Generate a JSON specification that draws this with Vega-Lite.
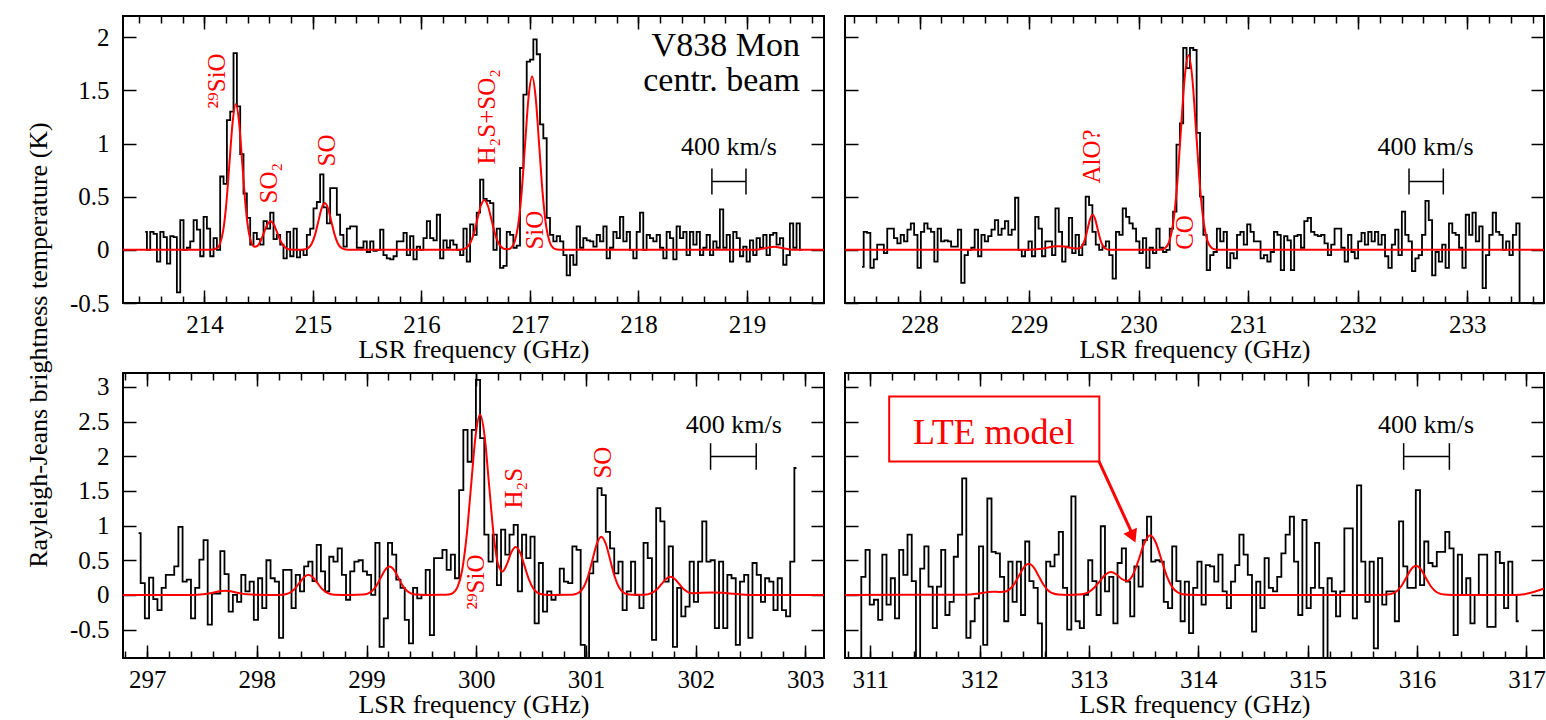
{
"$schema":"https://vega.github.io/schema/vega-lite/v6.json",
"padding":{"left":24,"top":14,"right":2,"bottom":1},
"background":"white",
"columns":2,
"spacing":{"row":70,"column":21},
"bounds":"flush",
"datasets":{
"s1":[{"f":213.455,"t":0.17},{"f":213.486,"t":0.0},{"f":213.516,"t":0.17},{"f":213.547,"t":0.15},{"f":213.578,"t":-0.11},{"f":213.609,"t":0.17},{"f":213.639,"t":0.12},{"f":213.670,"t":-0.13},{"f":213.701,"t":0.13},{"f":213.731,"t":0.12},{"f":213.762,"t":-0.4},{"f":213.793,"t":0.28},{"f":213.823,"t":0.0},{"f":213.854,"t":0.02},{"f":213.885,"t":0.08},{"f":213.916,"t":0.28},{"f":213.946,"t":0.19},{"f":213.977,"t":-0.06},{"f":214.008,"t":0.31},{"f":214.038,"t":0.2},{"f":214.069,"t":-0.06},{"f":214.100,"t":0.11},{"f":214.130,"t":0.0},{"f":214.161,"t":0.69},{"f":214.192,"t":0.62},{"f":214.223,"t":1.22},{"f":214.253,"t":1.3},{"f":214.284,"t":1.85},{"f":214.315,"t":1.35},{"f":214.345,"t":0.9},{"f":214.376,"t":0.53},{"f":214.407,"t":0.3},{"f":214.437,"t":0.05},{"f":214.468,"t":0.16},{"f":214.499,"t":0.1},{"f":214.530,"t":0.05},{"f":214.560,"t":0.27},{"f":214.591,"t":0.2},{"f":214.622,"t":0.35},{"f":214.652,"t":0.1},{"f":214.683,"t":0.14},{"f":214.714,"t":0.05},{"f":214.744,"t":-0.08},{"f":214.775,"t":0.17},{"f":214.806,"t":-0.06},{"f":214.837,"t":0.2},{"f":214.867,"t":-0.07},{"f":214.898,"t":0.0},{"f":214.929,"t":-0.05},{"f":214.959,"t":0.14},{"f":214.990,"t":0.2},{"f":215.021,"t":0.39},{"f":215.051,"t":0.45},{"f":215.082,"t":0.71},{"f":215.113,"t":0.4},{"f":215.144,"t":0.25},{"f":215.174,"t":0.58},{"f":215.205,"t":0.58},{"f":215.236,"t":0.33},{"f":215.266,"t":0.14},{"f":215.297,"t":0.03},{"f":215.328,"t":0.2},{"f":215.358,"t":0.22},{"f":215.389,"t":0.22},{"f":215.420,"t":0.02},{"f":215.451,"t":0.02},{"f":215.481,"t":0.08},{"f":215.512,"t":-0.02},{"f":215.543,"t":0.08},{"f":215.573,"t":-0.01},{"f":215.604,"t":0.0},{"f":215.635,"t":0.19},{"f":215.665,"t":-0.05},{"f":215.696,"t":-0.08},{"f":215.727,"t":-0.09},{"f":215.758,"t":-0.06},{"f":215.788,"t":0.08},{"f":215.819,"t":0.08},{"f":215.850,"t":0.16},{"f":215.880,"t":-0.05},{"f":215.911,"t":0.13},{"f":215.942,"t":-0.09},{"f":215.972,"t":0.03},{"f":216.003,"t":0.0},{"f":216.034,"t":0.11},{"f":216.065,"t":0.27},{"f":216.095,"t":0.11},{"f":216.126,"t":0.09},{"f":216.157,"t":0.33},{"f":216.187,"t":-0.08},{"f":216.218,"t":0.09},{"f":216.249,"t":0.02},{"f":216.279,"t":0.09},{"f":216.310,"t":0.05},{"f":216.341,"t":0.0},{"f":216.372,"t":-0.05},{"f":216.402,"t":0.2},{"f":216.433,"t":-0.11},{"f":216.464,"t":0.24},{"f":216.494,"t":0.14},{"f":216.525,"t":0.35},{"f":216.556,"t":0.66},{"f":216.586,"t":0.48},{"f":216.617,"t":0.46},{"f":216.648,"t":0.44},{"f":216.679,"t":0.0},{"f":216.709,"t":0.2},{"f":216.740,"t":-0.17},{"f":216.771,"t":-0.15},{"f":216.801,"t":0.17},{"f":216.832,"t":0.14},{"f":216.863,"t":0.02},{"f":216.893,"t":0.04},{"f":216.924,"t":0.77},{"f":216.955,"t":1.46},{"f":216.986,"t":1.77},{"f":217.016,"t":1.79},{"f":217.047,"t":1.98},{"f":217.078,"t":1.84},{"f":217.108,"t":1.18},{"f":217.139,"t":1.05},{"f":217.170,"t":0.3},{"f":217.200,"t":0.14},{"f":217.231,"t":0.08},{"f":217.262,"t":0.13},{"f":217.293,"t":0.08},{"f":217.323,"t":-0.05},{"f":217.354,"t":-0.24},{"f":217.385,"t":-0.05},{"f":217.415,"t":-0.14},{"f":217.446,"t":0.22},{"f":217.477,"t":0.02},{"f":217.507,"t":0.11},{"f":217.538,"t":0.09},{"f":217.569,"t":0.08},{"f":217.600,"t":0.03},{"f":217.630,"t":0.14},{"f":217.661,"t":0.08},{"f":217.692,"t":0.22},{"f":217.722,"t":-0.08},{"f":217.753,"t":0.02},{"f":217.784,"t":0.17},{"f":217.814,"t":0.11},{"f":217.845,"t":0.31},{"f":217.876,"t":0.08},{"f":217.907,"t":0.17},{"f":217.937,"t":0.0},{"f":217.968,"t":-0.08},{"f":217.999,"t":0.17},{"f":218.029,"t":0.35},{"f":218.060,"t":0.0},{"f":218.091,"t":0.14},{"f":218.121,"t":0.11},{"f":218.152,"t":0.08},{"f":218.183,"t":0.14},{"f":218.214,"t":0.02},{"f":218.244,"t":-0.08},{"f":218.275,"t":0.17},{"f":218.306,"t":0.11},{"f":218.336,"t":-0.09},{"f":218.367,"t":0.22},{"f":218.398,"t":0.11},{"f":218.428,"t":0.17},{"f":218.459,"t":-0.05},{"f":218.490,"t":0.17},{"f":218.521,"t":0.05},{"f":218.551,"t":0.17},{"f":218.582,"t":-0.05},{"f":218.613,"t":0.02},{"f":218.643,"t":0.14},{"f":218.674,"t":-0.05},{"f":218.705,"t":0.08},{"f":218.735,"t":0.02},{"f":218.766,"t":0.38},{"f":218.797,"t":0.02},{"f":218.828,"t":0.14},{"f":218.858,"t":-0.11},{"f":218.889,"t":0.17},{"f":218.920,"t":0.11},{"f":218.950,"t":-0.06},{"f":218.981,"t":0.03},{"f":219.012,"t":-0.11},{"f":219.042,"t":0.09},{"f":219.073,"t":-0.05},{"f":219.104,"t":0.11},{"f":219.135,"t":0.02},{"f":219.165,"t":0.14},{"f":219.196,"t":-0.05},{"f":219.227,"t":0.14},{"f":219.257,"t":0.16},{"f":219.288,"t":0.05},{"f":219.319,"t":0.11},{"f":219.349,"t":-0.14},{"f":219.380,"t":-0.05},{"f":219.411,"t":0.25},{"f":219.442,"t":0.02},{"f":219.472,"t":0.25},{"f":219.503,"t":0.0}],
"s2":[{"f":227.475,"t":-0.16},{"f":227.506,"t":0.17},{"f":227.536,"t":0.16},{"f":227.567,"t":-0.17},{"f":227.598,"t":-0.09},{"f":227.629,"t":0.05},{"f":227.659,"t":0.05},{"f":227.690,"t":-0.03},{"f":227.721,"t":0.2},{"f":227.751,"t":0.2},{"f":227.782,"t":0.11},{"f":227.813,"t":0.06},{"f":227.843,"t":0.14},{"f":227.874,"t":0.08},{"f":227.905,"t":0.19},{"f":227.936,"t":0.25},{"f":227.966,"t":0.14},{"f":227.997,"t":-0.17},{"f":228.028,"t":0.17},{"f":228.058,"t":0.25},{"f":228.089,"t":0.2},{"f":228.120,"t":0.17},{"f":228.150,"t":-0.11},{"f":228.181,"t":0.2},{"f":228.212,"t":0.08},{"f":228.243,"t":0.09},{"f":228.273,"t":0.08},{"f":228.304,"t":0.03},{"f":228.335,"t":0.03},{"f":228.365,"t":0.19},{"f":228.396,"t":-0.31},{"f":228.427,"t":-0.05},{"f":228.457,"t":0.0},{"f":228.488,"t":0.02},{"f":228.519,"t":0.19},{"f":228.550,"t":-0.06},{"f":228.580,"t":0.14},{"f":228.611,"t":0.08},{"f":228.642,"t":0.13},{"f":228.672,"t":0.19},{"f":228.703,"t":0.28},{"f":228.734,"t":0.14},{"f":228.764,"t":0.2},{"f":228.795,"t":0.27},{"f":228.826,"t":0.14},{"f":228.857,"t":0.19},{"f":228.887,"t":0.49},{"f":228.918,"t":0.0},{"f":228.949,"t":-0.06},{"f":228.979,"t":0.0},{"f":229.010,"t":0.08},{"f":229.041,"t":-0.06},{"f":229.071,"t":0.31},{"f":229.102,"t":0.2},{"f":229.133,"t":-0.06},{"f":229.164,"t":0.08},{"f":229.194,"t":0.08},{"f":229.225,"t":-0.05},{"f":229.256,"t":0.39},{"f":229.286,"t":0.17},{"f":229.317,"t":-0.11},{"f":229.348,"t":0.03},{"f":229.378,"t":0.3},{"f":229.409,"t":-0.03},{"f":229.440,"t":0.14},{"f":229.471,"t":-0.05},{"f":229.501,"t":0.05},{"f":229.532,"t":0.5},{"f":229.563,"t":0.42},{"f":229.593,"t":0.17},{"f":229.624,"t":0.05},{"f":229.655,"t":0.0},{"f":229.685,"t":0.03},{"f":229.716,"t":0.08},{"f":229.747,"t":-0.05},{"f":229.778,"t":-0.27},{"f":229.808,"t":0.17},{"f":229.839,"t":0.14},{"f":229.870,"t":0.39},{"f":229.900,"t":0.31},{"f":229.931,"t":0.25},{"f":229.962,"t":0.2},{"f":229.992,"t":0.08},{"f":230.023,"t":-0.03},{"f":230.054,"t":0.11},{"f":230.085,"t":-0.17},{"f":230.115,"t":0.02},{"f":230.146,"t":-0.03},{"f":230.177,"t":0.2},{"f":230.207,"t":0.02},{"f":230.238,"t":-0.02},{"f":230.269,"t":0.0},{"f":230.299,"t":0.2},{"f":230.330,"t":0.36},{"f":230.361,"t":0.99},{"f":230.392,"t":1.19},{"f":230.422,"t":1.9},{"f":230.453,"t":1.71},{"f":230.484,"t":1.9},{"f":230.514,"t":1.88},{"f":230.545,"t":1.1},{"f":230.576,"t":0.5},{"f":230.606,"t":0.14},{"f":230.637,"t":-0.19},{"f":230.668,"t":-0.05},{"f":230.699,"t":-0.02},{"f":230.729,"t":0.2},{"f":230.760,"t":0.08},{"f":230.791,"t":0.17},{"f":230.821,"t":-0.17},{"f":230.852,"t":-0.03},{"f":230.883,"t":-0.08},{"f":230.913,"t":0.14},{"f":230.944,"t":0.17},{"f":230.975,"t":0.05},{"f":231.006,"t":0.24},{"f":231.036,"t":0.17},{"f":231.067,"t":0.08},{"f":231.098,"t":0.08},{"f":231.128,"t":-0.08},{"f":231.159,"t":-0.05},{"f":231.190,"t":-0.11},{"f":231.220,"t":-0.02},{"f":231.251,"t":0.17},{"f":231.282,"t":0.14},{"f":231.313,"t":-0.19},{"f":231.343,"t":0.13},{"f":231.374,"t":0.09},{"f":231.405,"t":-0.19},{"f":231.435,"t":0.13},{"f":231.466,"t":0.14},{"f":231.497,"t":0.02},{"f":231.527,"t":0.27},{"f":231.558,"t":0.3},{"f":231.589,"t":0.17},{"f":231.620,"t":0.14},{"f":231.650,"t":0.13},{"f":231.681,"t":0.14},{"f":231.712,"t":0.06},{"f":231.742,"t":-0.05},{"f":231.773,"t":0.05},{"f":231.804,"t":0.2},{"f":231.834,"t":0.2},{"f":231.865,"t":0.02},{"f":231.896,"t":-0.11},{"f":231.927,"t":0.14},{"f":231.957,"t":-0.02},{"f":231.988,"t":-0.08},{"f":232.019,"t":0.08},{"f":232.049,"t":0.16},{"f":232.080,"t":0.05},{"f":232.111,"t":0.17},{"f":232.141,"t":0.08},{"f":232.172,"t":0.17},{"f":232.203,"t":0.05},{"f":232.234,"t":0.14},{"f":232.264,"t":-0.06},{"f":232.295,"t":-0.17},{"f":232.326,"t":0.05},{"f":232.356,"t":0.19},{"f":232.387,"t":-0.05},{"f":232.418,"t":0.36},{"f":232.448,"t":0.14},{"f":232.479,"t":0.08},{"f":232.510,"t":-0.2},{"f":232.541,"t":-0.08},{"f":232.571,"t":-0.05},{"f":232.602,"t":0.14},{"f":232.633,"t":0.46},{"f":232.663,"t":0.28},{"f":232.694,"t":-0.24},{"f":232.725,"t":-0.02},{"f":232.755,"t":-0.11},{"f":232.786,"t":0.05},{"f":232.817,"t":-0.17},{"f":232.848,"t":0.25},{"f":232.878,"t":0.16},{"f":232.909,"t":0.14},{"f":232.940,"t":0.02},{"f":232.970,"t":-0.17},{"f":233.001,"t":0.33},{"f":233.032,"t":0.14},{"f":233.062,"t":0.35},{"f":233.093,"t":0.08},{"f":233.124,"t":0.22},{"f":233.155,"t":-0.36},{"f":233.185,"t":-0.05},{"f":233.216,"t":0.14},{"f":233.247,"t":0.35},{"f":233.277,"t":0.17},{"f":233.308,"t":0.14},{"f":233.339,"t":0.0},{"f":233.369,"t":0.08},{"f":233.400,"t":-0.05},{"f":233.431,"t":0.14},{"f":233.462,"t":0.25},{"f":233.492,"t":-0.9}],
"s3":[{"f":296.922,"t":0.89},{"f":296.960,"t":0.17},{"f":296.998,"t":-0.34},{"f":297.037,"t":0.25},{"f":297.075,"t":-0.06},{"f":297.113,"t":-0.22},{"f":297.151,"t":0.1},{"f":297.189,"t":0.29},{"f":297.228,"t":0.29},{"f":297.266,"t":0.41},{"f":297.304,"t":0.98},{"f":297.342,"t":0.19},{"f":297.380,"t":0.22},{"f":297.419,"t":-0.34},{"f":297.457,"t":0.1},{"f":297.495,"t":0.51},{"f":297.533,"t":0.79},{"f":297.571,"t":-0.43},{"f":297.610,"t":0.02},{"f":297.648,"t":0.02},{"f":297.686,"t":0.63},{"f":297.724,"t":0.3},{"f":297.762,"t":-0.24},{"f":297.801,"t":0.0},{"f":297.839,"t":-0.1},{"f":297.877,"t":0.29},{"f":297.915,"t":0.05},{"f":297.953,"t":0.19},{"f":297.992,"t":-0.36},{"f":298.030,"t":0.24},{"f":298.068,"t":-0.19},{"f":298.106,"t":0.5},{"f":298.144,"t":0.24},{"f":298.183,"t":0.19},{"f":298.221,"t":-0.62},{"f":298.259,"t":0.36},{"f":298.297,"t":0.36},{"f":298.335,"t":-0.19},{"f":298.374,"t":0.29},{"f":298.412,"t":0.05},{"f":298.450,"t":0.41},{"f":298.488,"t":0.48},{"f":298.526,"t":0.2},{"f":298.565,"t":0.72},{"f":298.603,"t":0.34},{"f":298.641,"t":0.05},{"f":298.679,"t":0.55},{"f":298.717,"t":0.48},{"f":298.756,"t":0.67},{"f":298.794,"t":0.29},{"f":298.832,"t":-0.07},{"f":298.870,"t":0.34},{"f":298.908,"t":0.48},{"f":298.947,"t":0.5},{"f":298.985,"t":0.34},{"f":299.023,"t":0.29},{"f":299.061,"t":0.0},{"f":299.099,"t":0.75},{"f":299.138,"t":-0.75},{"f":299.176,"t":-0.34},{"f":299.214,"t":0.75},{"f":299.252,"t":0.58},{"f":299.290,"t":0.22},{"f":299.329,"t":0.1},{"f":299.367,"t":-0.36},{"f":299.405,"t":-0.7},{"f":299.443,"t":0.1},{"f":299.481,"t":-0.05},{"f":299.520,"t":0.0},{"f":299.558,"t":0.36},{"f":299.596,"t":-0.58},{"f":299.634,"t":0.53},{"f":299.672,"t":0.53},{"f":299.711,"t":0.65},{"f":299.749,"t":0.36},{"f":299.787,"t":0.58},{"f":299.825,"t":0.24},{"f":299.863,"t":1.51},{"f":299.902,"t":2.38},{"f":299.940,"t":1.92},{"f":299.978,"t":2.38},{"f":300.016,"t":3.1},{"f":300.054,"t":2.26},{"f":300.093,"t":0.87},{"f":300.131,"t":0.48},{"f":300.169,"t":0.87},{"f":300.207,"t":0.14},{"f":300.245,"t":0.94},{"f":300.284,"t":0.58},{"f":300.322,"t":0.87},{"f":300.360,"t":1.01},{"f":300.398,"t":0.05},{"f":300.436,"t":0.87},{"f":300.475,"t":0.53},{"f":300.513,"t":0.84},{"f":300.551,"t":-0.41},{"f":300.589,"t":0.46},{"f":300.627,"t":-0.24},{"f":300.666,"t":0.05},{"f":300.704,"t":-0.07},{"f":300.742,"t":0.0},{"f":300.780,"t":0.38},{"f":300.818,"t":0.19},{"f":300.857,"t":0.17},{"f":300.895,"t":0.7},{"f":300.933,"t":0.65},{"f":300.971,"t":-0.72},{"f":301.009,"t":-1.2},{"f":301.048,"t":0.31},{"f":301.086,"t":0.48},{"f":301.124,"t":1.54},{"f":301.162,"t":1.44},{"f":301.200,"t":0.91},{"f":301.239,"t":0.67},{"f":301.277,"t":0.31},{"f":301.315,"t":0.48},{"f":301.353,"t":-0.22},{"f":301.391,"t":0.05},{"f":301.430,"t":0.48},{"f":301.468,"t":0.0},{"f":301.506,"t":-0.19},{"f":301.544,"t":0.75},{"f":301.582,"t":0.53},{"f":301.621,"t":-0.65},{"f":301.659,"t":1.25},{"f":301.697,"t":1.06},{"f":301.735,"t":0.19},{"f":301.773,"t":0.7},{"f":301.812,"t":-0.75},{"f":301.850,"t":0.1},{"f":301.888,"t":-0.31},{"f":301.926,"t":-0.17},{"f":301.964,"t":0.48},{"f":302.003,"t":-0.1},{"f":302.041,"t":0.48},{"f":302.079,"t":1.06},{"f":302.117,"t":0.48},{"f":302.155,"t":0.5},{"f":302.194,"t":-0.48},{"f":302.232,"t":0.48},{"f":302.270,"t":-0.48},{"f":302.308,"t":0.29},{"f":302.346,"t":0.24},{"f":302.385,"t":-0.72},{"f":302.423,"t":0.19},{"f":302.461,"t":0.29},{"f":302.499,"t":-0.62},{"f":302.537,"t":0.46},{"f":302.576,"t":0.29},{"f":302.614,"t":-0.1},{"f":302.652,"t":0.24},{"f":302.690,"t":0.19},{"f":302.728,"t":-0.22},{"f":302.767,"t":0.24},{"f":302.805,"t":-0.22},{"f":302.843,"t":-0.31},{"f":302.881,"t":0.48},{"f":302.919,"t":1.83}],
"s4":[{"f":310.900,"t":-1.2},{"f":310.938,"t":0.26},{"f":310.977,"t":0.65},{"f":311.015,"t":-0.14},{"f":311.054,"t":-0.07},{"f":311.092,"t":-0.36},{"f":311.130,"t":0.58},{"f":311.169,"t":-0.14},{"f":311.207,"t":0.24},{"f":311.246,"t":-0.34},{"f":311.284,"t":0.65},{"f":311.322,"t":0.29},{"f":311.361,"t":0.87},{"f":311.399,"t":0.2},{"f":311.438,"t":-1.2},{"f":311.476,"t":0.38},{"f":311.514,"t":0.7},{"f":311.553,"t":0.12},{"f":311.591,"t":-0.48},{"f":311.630,"t":0.12},{"f":311.668,"t":0.65},{"f":311.706,"t":-0.29},{"f":311.745,"t":-0.1},{"f":311.783,"t":0.55},{"f":311.822,"t":0.87},{"f":311.860,"t":1.68},{"f":311.898,"t":-0.62},{"f":311.937,"t":-0.38},{"f":311.975,"t":-0.05},{"f":312.014,"t":0.7},{"f":312.052,"t":-0.72},{"f":312.090,"t":1.39},{"f":312.129,"t":0.62},{"f":312.167,"t":0.6},{"f":312.206,"t":0.26},{"f":312.244,"t":-0.38},{"f":312.282,"t":0.48},{"f":312.321,"t":-0.1},{"f":312.359,"t":0.48},{"f":312.398,"t":-0.29},{"f":312.436,"t":0.77},{"f":312.474,"t":0.2},{"f":312.513,"t":0.1},{"f":312.551,"t":-0.41},{"f":312.590,"t":-1.2},{"f":312.628,"t":0.48},{"f":312.666,"t":0.41},{"f":312.705,"t":0.58},{"f":312.743,"t":0.91},{"f":312.782,"t":0.1},{"f":312.820,"t":-0.5},{"f":312.858,"t":1.42},{"f":312.897,"t":-0.38},{"f":312.935,"t":-0.48},{"f":312.974,"t":0.0},{"f":313.012,"t":0.5},{"f":313.050,"t":0.2},{"f":313.089,"t":-0.29},{"f":313.127,"t":0.99},{"f":313.166,"t":0.05},{"f":313.204,"t":0.26},{"f":313.242,"t":-0.41},{"f":313.281,"t":0.46},{"f":313.319,"t":0.67},{"f":313.358,"t":0.19},{"f":313.396,"t":-0.31},{"f":313.434,"t":0.41},{"f":313.473,"t":0.12},{"f":313.511,"t":0.79},{"f":313.550,"t":1.13},{"f":313.588,"t":0.48},{"f":313.626,"t":0.5},{"f":313.665,"t":0.48},{"f":313.703,"t":-0.1},{"f":313.742,"t":-0.19},{"f":313.780,"t":0.7},{"f":313.818,"t":0.2},{"f":313.857,"t":-0.38},{"f":313.895,"t":0.19},{"f":313.934,"t":-0.55},{"f":313.972,"t":0.1},{"f":314.010,"t":0.48},{"f":314.049,"t":-0.14},{"f":314.087,"t":0.43},{"f":314.126,"t":0.41},{"f":314.164,"t":0.19},{"f":314.202,"t":0.58},{"f":314.241,"t":0.05},{"f":314.279,"t":-0.19},{"f":314.318,"t":0.19},{"f":314.356,"t":0.43},{"f":314.394,"t":0.87},{"f":314.433,"t":0.58},{"f":314.471,"t":0.29},{"f":314.510,"t":-0.53},{"f":314.548,"t":0.19},{"f":314.586,"t":-0.19},{"f":314.625,"t":0.53},{"f":314.663,"t":0.1},{"f":314.702,"t":0.05},{"f":314.740,"t":0.26},{"f":314.778,"t":0.6},{"f":314.817,"t":0.87},{"f":314.855,"t":1.13},{"f":314.894,"t":0.48},{"f":314.932,"t":-0.29},{"f":314.970,"t":1.08},{"f":315.009,"t":-0.19},{"f":315.047,"t":0.1},{"f":315.086,"t":0.75},{"f":315.124,"t":0.1},{"f":315.162,"t":-1.2},{"f":315.201,"t":0.24},{"f":315.239,"t":0.05},{"f":315.278,"t":-0.31},{"f":315.316,"t":0.05},{"f":315.354,"t":0.96},{"f":315.393,"t":0.96},{"f":315.431,"t":-0.34},{"f":315.470,"t":1.58},{"f":315.508,"t":0.48},{"f":315.546,"t":-0.1},{"f":315.585,"t":0.48},{"f":315.623,"t":-0.77},{"f":315.662,"t":0.53},{"f":315.700,"t":-0.14},{"f":315.738,"t":0.05},{"f":315.777,"t":0.05},{"f":315.815,"t":-0.38},{"f":315.854,"t":1.06},{"f":315.892,"t":0.41},{"f":315.930,"t":0.1},{"f":315.969,"t":0.1},{"f":316.007,"t":1.51},{"f":316.046,"t":0.14},{"f":316.084,"t":0.77},{"f":316.122,"t":0.46},{"f":316.161,"t":0.41},{"f":316.199,"t":0.62},{"f":316.238,"t":0.62},{"f":316.276,"t":0.91},{"f":316.314,"t":0.67},{"f":316.353,"t":-0.58},{"f":316.391,"t":0.58},{"f":316.430,"t":0.0},{"f":316.468,"t":0.24},{"f":316.506,"t":-0.41},{"f":316.545,"t":0.0},{"f":316.583,"t":0.58},{"f":316.622,"t":0.58},{"f":316.660,"t":-0.46},{"f":316.698,"t":-0.46},{"f":316.737,"t":0.62},{"f":316.775,"t":0.46},{"f":316.814,"t":-0.19},{"f":316.852,"t":0.48},{"f":316.890,"t":0.0},{"f":316.929,"t":-0.38}],
"m1":[{"f":213.25,"t":0},{"f":214.05,"t":0},{"f":214.116,"t":0.015},{"f":214.145,"t":0.06},{"f":214.174,"t":0.185},{"f":214.203,"t":0.445},{"f":214.232,"t":0.831},{"f":214.261,"t":1.209},{"f":214.29,"t":1.37},{"f":214.319,"t":1.209},{"f":214.348,"t":0.831},{"f":214.377,"t":0.445},{"f":214.406,"t":0.185},{"f":214.435,"t":0.063},{"f":214.464,"t":0.029},{"f":214.49,"t":0.038},{"f":214.52,"t":0.088},{"f":214.55,"t":0.164},{"f":214.58,"t":0.238},{"f":214.61,"t":0.27},{"f":214.64,"t":0.238},{"f":214.67,"t":0.164},{"f":214.70,"t":0.088},{"f":214.73,"t":0.037},{"f":214.76,"t":0.012},{"f":214.79,"t":0.003},{"f":214.86,"t":0},{"f":214.93,"t":0.005},{"f":214.96,"t":0.019},{"f":214.99,"t":0.06},{"f":215.02,"t":0.143},{"f":215.05,"t":0.267},{"f":215.08,"t":0.388},{"f":215.11,"t":0.44},{"f":215.14,"t":0.388},{"f":215.17,"t":0.267},{"f":215.20,"t":0.143},{"f":215.23,"t":0.06},{"f":215.26,"t":0.019},{"f":215.29,"t":0.005},{"f":215.35,"t":0},{"f":216.33,"t":0},{"f":216.385,"t":0.005},{"f":216.4175,"t":0.021},{"f":216.45,"t":0.064},{"f":216.4825,"t":0.153},{"f":216.515,"t":0.285},{"f":216.5475,"t":0.415},{"f":216.58,"t":0.47},{"f":216.6125,"t":0.415},{"f":216.645,"t":0.285},{"f":216.6775,"t":0.153},{"f":216.71,"t":0.064},{"f":216.7425,"t":0.021},{"f":216.775,"t":0.007},{"f":216.80,"t":0.006},{"f":216.825,"t":0.018},{"f":216.8575,"t":0.072},{"f":216.89,"t":0.221},{"f":216.9225,"t":0.529},{"f":216.955,"t":0.989},{"f":216.9875,"t":1.438},{"f":217.02,"t":1.63},{"f":217.0525,"t":1.438},{"f":217.085,"t":0.989},{"f":217.1175,"t":0.529},{"f":217.15,"t":0.221},{"f":217.1825,"t":0.072},{"f":217.215,"t":0.018},{"f":217.2475,"t":0.004},{"f":217.30,"t":0},{"f":219.05,"t":0},{"f":219.11,"t":0.004},{"f":219.18,"t":0.018},{"f":219.25,"t":0.03},{"f":219.32,"t":0.018},{"f":219.39,"t":0.004},{"f":219.45,"t":0},{"f":219.71,"t":0}],
"m2":[{"f":227.32,"t":0},{"f":228.95,"t":0},{"f":229.07,"t":0.005},{"f":229.12,"t":0.011},{"f":229.17,"t":0.021},{"f":229.22,"t":0.031},{"f":229.27,"t":0.035},{"f":229.32,"t":0.031},{"f":229.37,"t":0.021},{"f":229.42,"t":0.013},{"f":229.445,"t":0.012},{"f":229.4675,"t":0.019},{"f":229.49,"t":0.048},{"f":229.5125,"t":0.107},{"f":229.535,"t":0.2},{"f":229.5575,"t":0.291},{"f":229.58,"t":0.33},{"f":229.6025,"t":0.291},{"f":229.625,"t":0.2},{"f":229.6475,"t":0.107},{"f":229.67,"t":0.045},{"f":229.6925,"t":0.014},{"f":229.715,"t":0.004},{"f":229.76,"t":0},{"f":230.20,"t":0},{"f":230.245,"t":0.02},{"f":230.28,"t":0.08},{"f":230.315,"t":0.248},{"f":230.35,"t":0.594},{"f":230.385,"t":1.11},{"f":230.42,"t":1.615},{"f":230.455,"t":1.83},{"f":230.49,"t":1.615},{"f":230.525,"t":1.11},{"f":230.56,"t":0.594},{"f":230.595,"t":0.248},{"f":230.63,"t":0.08},{"f":230.665,"t":0.02},{"f":230.70,"t":0.004},{"f":230.74,"t":0},{"f":233.70,"t":0}],
"m3":[{"f":296.78,"t":0},{"f":297.41,"t":0},{"f":297.51,"t":0.008},{"f":297.56,"t":0.02},{"f":297.61,"t":0.036},{"f":297.66,"t":0.053},{"f":297.71,"t":0.06},{"f":297.76,"t":0.053},{"f":297.81,"t":0.036},{"f":297.86,"t":0.02},{"f":297.91,"t":0.008},{"f":298.01,"t":0.001},{"f":298.15,"t":0},{"f":298.23,"t":0.003},{"f":298.27,"t":0.013},{"f":298.31,"t":0.039},{"f":298.35,"t":0.094},{"f":298.39,"t":0.176},{"f":298.43,"t":0.256},{"f":298.47,"t":0.29},{"f":298.51,"t":0.256},{"f":298.55,"t":0.176},{"f":298.59,"t":0.094},{"f":298.63,"t":0.039},{"f":298.67,"t":0.013},{"f":298.71,"t":0.003},{"f":298.85,"t":0},{"f":298.97,"t":0.005},{"f":299.01,"t":0.018},{"f":299.05,"t":0.055},{"f":299.09,"t":0.133},{"f":299.13,"t":0.249},{"f":299.17,"t":0.362},{"f":299.21,"t":0.41},{"f":299.25,"t":0.362},{"f":299.29,"t":0.249},{"f":299.33,"t":0.133},{"f":299.37,"t":0.055},{"f":299.41,"t":0.018},{"f":299.45,"t":0.005},{"f":299.55,"t":0},{"f":299.70,"t":0.001},{"f":299.748,"t":0.006},{"f":299.789,"t":0.029},{"f":299.83,"t":0.114},{"f":299.871,"t":0.352},{"f":299.912,"t":0.844},{"f":299.953,"t":1.577},{"f":299.994,"t":2.294},{"f":300.035,"t":2.6},{"f":300.076,"t":2.294},{"f":300.117,"t":1.585},{"f":300.158,"t":0.874},{"f":300.199,"t":0.444},{"f":300.24,"t":0.338},{"f":300.281,"t":0.447},{"f":300.32,"t":0.614},{"f":300.36,"t":0.69},{"f":300.40,"t":0.609},{"f":300.44,"t":0.418},{"f":300.48,"t":0.224},{"f":300.52,"t":0.093},{"f":300.56,"t":0.03},{"f":300.60,"t":0.008},{"f":300.66,"t":0},{"f":300.85,"t":0.001},{"f":300.90,"t":0.009},{"f":300.94,"t":0.037},{"f":300.98,"t":0.114},{"f":301.02,"t":0.273},{"f":301.06,"t":0.509},{"f":301.10,"t":0.741},{"f":301.14,"t":0.84},{"f":301.18,"t":0.741},{"f":301.22,"t":0.509},{"f":301.26,"t":0.273},{"f":301.30,"t":0.114},{"f":301.34,"t":0.037},{"f":301.38,"t":0.009},{"f":301.45,"t":0.001},{"f":301.53,"t":0.003},{"f":301.57,"t":0.011},{"f":301.61,"t":0.035},{"f":301.65,"t":0.084},{"f":301.69,"t":0.158},{"f":301.73,"t":0.229},{"f":301.77,"t":0.26},{"f":301.81,"t":0.229},{"f":301.85,"t":0.158},{"f":301.89,"t":0.084},{"f":301.93,"t":0.04},{"f":301.97,"t":0.022},{"f":302.05,"t":0.03},{"f":302.15,"t":0.035},{"f":302.25,"t":0.03},{"f":302.35,"t":0.015},{"f":302.45,"t":0.003},{"f":302.55,"t":0},{"f":303.17,"t":0}],
"m4":[{"f":310.77,"t":0},{"f":311.87,"t":0.002},{"f":311.97,"t":0.015},{"f":312.02,"t":0.027},{"f":312.07,"t":0.04},{"f":312.12,"t":0.046},{"f":312.18,"t":0.043},{"f":312.225,"t":0.045},{"f":312.27,"t":0.076},{"f":312.315,"t":0.152},{"f":312.36,"t":0.275},{"f":312.405,"t":0.397},{"f":312.45,"t":0.45},{"f":312.495,"t":0.397},{"f":312.54,"t":0.273},{"f":312.585,"t":0.146},{"f":312.63,"t":0.061},{"f":312.675,"t":0.02},{"f":312.72,"t":0.005},{"f":312.8,"t":0},{"f":312.85,"t":0.001},{"f":312.9,"t":0.004},{"f":312.95,"t":0.014},{"f":313.0,"t":0.045},{"f":313.05,"t":0.107},{"f":313.1,"t":0.2},{"f":313.15,"t":0.291},{"f":313.2,"t":0.33},{"f":313.25,"t":0.298},{"f":313.3,"t":0.229},{"f":313.35,"t":0.202},{"f":313.4,"t":0.284},{"f":313.45,"t":0.484},{"f":313.5,"t":0.722},{"f":313.56,"t":0.86},{"f":313.61,"t":0.759},{"f":313.66,"t":0.522},{"f":313.71,"t":0.279},{"f":313.76,"t":0.116},{"f":313.81,"t":0.038},{"f":313.86,"t":0.01},{"f":313.91,"t":0.002},{"f":314.0,"t":0},{"f":315.65,"t":0},{"f":315.729,"t":0.005},{"f":315.7725,"t":0.018},{"f":315.816,"t":0.057},{"f":315.8595,"t":0.136},{"f":315.903,"t":0.255},{"f":315.9465,"t":0.371},{"f":315.99,"t":0.42},{"f":316.0335,"t":0.371},{"f":316.077,"t":0.255},{"f":316.1205,"t":0.136},{"f":316.164,"t":0.057},{"f":316.2075,"t":0.018},{"f":316.251,"t":0.005},{"f":316.32,"t":0},{"f":316.9,"t":0},{"f":316.98,"t":0.01},{"f":317.04,"t":0.03},{"f":317.1,"t":0.06},{"f":317.16,"t":0.09}],
"b1":[{"xa":218.677,"xb":218.991,"ya":0.643,"yb":0.643},{"xa":218.677,"xb":218.677,"ya":0.521,"yb":0.766},{"xa":218.991,"xb":218.991,"ya":0.521,"yb":0.766}],
"b2":[{"xa":232.468,"xb":232.781,"ya":0.643,"yb":0.643},{"xa":232.468,"xb":232.468,"ya":0.521,"yb":0.766},{"xa":232.781,"xb":232.781,"ya":0.521,"yb":0.766}],
"b3":[{"xa":302.136,"xb":302.552,"ya":1.996,"yb":1.996},{"xa":302.136,"xb":302.136,"ya":1.804,"yb":2.188},{"xa":302.552,"xb":302.552,"ya":1.804,"yb":2.188}],
"b4":[{"xa":315.877,"xb":316.295,"ya":1.996,"yb":1.996},{"xa":315.877,"xb":315.877,"ya":1.804,"yb":2.188},{"xa":316.295,"xb":316.295,"ya":1.804,"yb":2.188}],
"k1":[{"f":218.834,"t":0.897,"txt":"400 km/s"}],
"k2":[{"f":232.619,"t":0.897,"txt":"400 km/s"}],
"k3":[{"f":302.348,"t":2.335,"txt":"400 km/s"}],
"k4":[{"f":316.081,"t":2.335,"txt":"400 km/s"}],
"l1":[{"f":214.189,"t":1.33,"txt":"\u00b2\u2079SiO"},{"f":214.668,"t":0.436,"txt":"SO\u2082"},{"f":215.203,"t":0.784,"txt":"SO"},{"f":216.677,"t":0.803,"txt":"H\u2082S+SO\u2082"},{"f":217.12,"t":0.003,"txt":"SiO"}],
"l2":[{"f":229.648,"t":0.624,"txt":"AlO?"},{"f":230.50,"t":0.0,"txt":"CO"}],
"l3":[{"f":300.073,"t":-0.212,"txt":"\u00b2\u2079SiO"},{"f":300.418,"t":1.245,"txt":"H\u2082S"},{"f":301.227,"t":1.678,"txt":"SO"}],
"v838":[{"f":219.488,"t":1.82,"txt":"V838 Mon"},{"f":219.488,"t":1.49,"txt":"centr. beam"}],
"ltebox":[{"xa":311.174,"xb":313.095,"ya":1.924,"yb":2.861}],
"ltetext":[{"f":312.13,"t":2.169,"txt":"LTE model"}],
"ltearrow":[{"xa":313.092,"xb":313.388,"ya":1.924,"yb":0.91}],
"ltehead":[{"f":313.401,"t":0.84}]
},
"concat":[
{"width":701,"height":287,
"layer":[
{"data":{"name":"s1"},"mark":{"type":"line","interpolate":"step","color":"black","strokeWidth":1.8,"clip":true},
"encoding":{"x":{"field":"f","type":"quantitative","scale":{"domain":[213.25,219.71],"nice":false,"zero":false},"axis":{"orient":"bottom","values":[214,215,216,217,218,219],"tickSize":-13,"labelPadding":22,"labelFont":"Liberation Serif","titleFont":"Liberation Serif","title":"LSR frequency (GHz)","titleY":54,"titleBaseline":"alphabetic"}},
"y":{"field":"t","type":"quantitative","scale":{"domain":[-0.5,2.2],"nice":false,"zero":false},"axis":{"orient":"left","values":[-0.5,0,0.5,1,1.5,2],"tickSize":-13,"labelPadding":27,"labelFont":"Liberation Serif","titleFont":"Liberation Serif","labelExpr":"toString(datum.value)","title":"Rayleigh-Jeans brightness temperature (K)","titleX":-76.5,"titleY":328.5,"titleAngle":270,"titleAlign":"center","titleBaseline":"alphabetic"}}}},
{"data":{"name":"m1"},"mark":{"type":"line","interpolate":"monotone","color":"#ff0000","strokeWidth":2,"clip":true},
"encoding":{"x":{"field":"f","type":"quantitative","scale":{"domain":[213.25,219.71],"nice":false,"zero":false},"axis":{"orient":"top","values":[214,215,216,217,218,219],"tickSize":-13,"labels":false,"title":null}},
"y":{"field":"t","type":"quantitative","scale":{"domain":[-0.5,2.2],"nice":false,"zero":false},"axis":{"orient":"right","values":[-0.5,0,0.5,1,1.5,2],"tickSize":-13,"labels":false,"title":null}}}},
{"data":{"name":"b1"},"mark":{"type":"rule","color":"black","strokeWidth":1.5},
"encoding":{"x":{"field":"xa","type":"quantitative","scale":{"domain":[213.25,219.71],"nice":false,"zero":false},"axis":{"orient":"bottom","values":[213.4,213.6,213.8,214,214.2,214.4,214.6,214.8,215,215.2,215.4,215.6,215.8,216,216.2,216.4,216.6,216.8,217,217.2,217.4,217.6,217.8,218,218.2,218.4,218.6,218.8,219,219.2,219.4,219.6],"tickSize":-7,"labels":false,"title":null}},"x2":{"field":"xb"},
"y":{"field":"ya","type":"quantitative","scale":{"domain":[-0.5,2.2],"nice":false,"zero":false},"axis":null},"y2":{"field":"yb"}}},
{"data":{"name":"k1"},"mark":{"type":"text","fontSize":26,"align":"center","baseline":"alphabetic","color":"black","font":"Liberation Serif"},
"encoding":{"x":{"field":"f","type":"quantitative","scale":{"domain":[213.25,219.71],"nice":false,"zero":false},"axis":{"orient":"top","values":[213.4,213.6,213.8,214,214.2,214.4,214.6,214.8,215,215.2,215.4,215.6,215.8,216,216.2,216.4,216.6,216.8,217,217.2,217.4,217.6,217.8,218,218.2,218.4,218.6,218.8,219,219.2,219.4,219.6],"tickSize":-7,"labels":false,"title":null}},
"y":{"field":"t","type":"quantitative","scale":{"domain":[-0.5,2.2],"nice":false,"zero":false},"axis":null},"text":{"field":"txt"}}},
{"data":{"name":"l1"},"mark":{"type":"text","fontSize":25,"angle":270,"align":"left","baseline":"alphabetic","color":"#ff0000","font":"Liberation Serif"},
"encoding":{"x":{"field":"f","type":"quantitative","scale":{"domain":[213.25,219.71],"nice":false,"zero":false},"axis":null},
"y":{"field":"t","type":"quantitative","scale":{"domain":[-0.5,2.2],"nice":false,"zero":false},"axis":null},"text":{"field":"txt"}}},
{"data":{"name":"v838"},"mark":{"type":"text","fontSize":34,"align":"right","baseline":"alphabetic","color":"black","font":"Liberation Serif"},
"encoding":{"x":{"field":"f","type":"quantitative","scale":{"domain":[213.25,219.71],"nice":false,"zero":false},"axis":null},
"y":{"field":"t","type":"quantitative","scale":{"domain":[-0.5,2.2],"nice":false,"zero":false},"axis":null},"text":{"field":"txt"}}}
],
"resolve":{"axis":{"x":"independent","y":"independent"}}},
{"width":699,"height":287,
"layer":[
{"data":{"name":"s2"},"mark":{"type":"line","interpolate":"step","color":"black","strokeWidth":1.8,"clip":true},
"encoding":{"x":{"field":"f","type":"quantitative","scale":{"domain":[227.32,233.70],"nice":false,"zero":false},"axis":{"orient":"bottom","values":[228,229,230,231,232,233],"tickSize":-13,"labelPadding":22,"labelFont":"Liberation Serif","titleFont":"Liberation Serif","title":"LSR frequency (GHz)","titleY":54,"titleBaseline":"alphabetic"}},
"y":{"field":"t","type":"quantitative","scale":{"domain":[-0.5,2.2],"nice":false,"zero":false},"axis":{"orient":"left","values":[-0.5,0,0.5,1,1.5,2],"tickSize":-13,"labels":false,"title":null}}}},
{"data":{"name":"m2"},"mark":{"type":"line","interpolate":"monotone","color":"#ff0000","strokeWidth":2,"clip":true},
"encoding":{"x":{"field":"f","type":"quantitative","scale":{"domain":[227.32,233.70],"nice":false,"zero":false},"axis":{"orient":"top","values":[228,229,230,231,232,233],"tickSize":-13,"labels":false,"title":null}},
"y":{"field":"t","type":"quantitative","scale":{"domain":[-0.5,2.2],"nice":false,"zero":false},"axis":{"orient":"right","values":[-0.5,0,0.5,1,1.5,2],"tickSize":-13,"labels":false,"title":null}}}},
{"data":{"name":"b2"},"mark":{"type":"rule","color":"black","strokeWidth":1.5},
"encoding":{"x":{"field":"xa","type":"quantitative","scale":{"domain":[227.32,233.70],"nice":false,"zero":false},"axis":{"orient":"bottom","values":[227.4,227.6,227.8,228,228.2,228.4,228.6,228.8,229,229.2,229.4,229.6,229.8,230,230.2,230.4,230.6,230.8,231,231.2,231.4,231.6,231.8,232,232.2,232.4,232.6,232.8,233,233.2,233.4,233.6],"tickSize":-7,"labels":false,"title":null}},"x2":{"field":"xb"},
"y":{"field":"ya","type":"quantitative","scale":{"domain":[-0.5,2.2],"nice":false,"zero":false},"axis":null},"y2":{"field":"yb"}}},
{"data":{"name":"k2"},"mark":{"type":"text","fontSize":26,"align":"center","baseline":"alphabetic","color":"black","font":"Liberation Serif"},
"encoding":{"x":{"field":"f","type":"quantitative","scale":{"domain":[227.32,233.70],"nice":false,"zero":false},"axis":{"orient":"top","values":[227.4,227.6,227.8,228,228.2,228.4,228.6,228.8,229,229.2,229.4,229.6,229.8,230,230.2,230.4,230.6,230.8,231,231.2,231.4,231.6,231.8,232,232.2,232.4,232.6,232.8,233,233.2,233.4,233.6],"tickSize":-7,"labels":false,"title":null}},
"y":{"field":"t","type":"quantitative","scale":{"domain":[-0.5,2.2],"nice":false,"zero":false},"axis":null},"text":{"field":"txt"}}},
{"data":{"name":"l2"},"mark":{"type":"text","fontSize":25,"angle":270,"align":"left","baseline":"alphabetic","color":"#ff0000","font":"Liberation Serif"},
"encoding":{"x":{"field":"f","type":"quantitative","scale":{"domain":[227.32,233.70],"nice":false,"zero":false},"axis":null},
"y":{"field":"t","type":"quantitative","scale":{"domain":[-0.5,2.2],"nice":false,"zero":false},"axis":null},"text":{"field":"txt"}}}
],
"resolve":{"axis":{"x":"independent","y":"independent"}}},
{"width":701,"height":285,
"layer":[
{"data":{"name":"s3"},"mark":{"type":"line","interpolate":"step","color":"black","strokeWidth":1.8,"clip":true},
"encoding":{"x":{"field":"f","type":"quantitative","scale":{"domain":[296.78,303.17],"nice":false,"zero":false},"axis":{"orient":"bottom","values":[297,298,299,300,301,302,303],"tickSize":-13,"labelPadding":22,"labelFont":"Liberation Serif","titleFont":"Liberation Serif","title":"LSR frequency (GHz)","titleY":54,"titleBaseline":"alphabetic"}},
"y":{"field":"t","type":"quantitative","scale":{"domain":[-0.91,3.2],"nice":false,"zero":false},"axis":{"orient":"left","values":[-0.5,0,0.5,1,1.5,2,2.5,3],"tickSize":-13,"labelPadding":27,"labelFont":"Liberation Serif","labelExpr":"toString(datum.value)","title":null}}}},
{"data":{"name":"m3"},"mark":{"type":"line","interpolate":"monotone","color":"#ff0000","strokeWidth":2,"clip":true},
"encoding":{"x":{"field":"f","type":"quantitative","scale":{"domain":[296.78,303.17],"nice":false,"zero":false},"axis":{"orient":"top","values":[297,298,299,300,301,302,303],"tickSize":-13,"labels":false,"title":null}},
"y":{"field":"t","type":"quantitative","scale":{"domain":[-0.91,3.2],"nice":false,"zero":false},"axis":{"orient":"right","values":[-0.5,0,0.5,1,1.5,2,2.5,3],"tickSize":-13,"labels":false,"title":null}}}},
{"data":{"name":"b3"},"mark":{"type":"rule","color":"black","strokeWidth":1.5},
"encoding":{"x":{"field":"xa","type":"quantitative","scale":{"domain":[296.78,303.17],"nice":false,"zero":false},"axis":{"orient":"bottom","values":[296.8,297,297.2,297.4,297.6,297.8,298,298.2,298.4,298.6,298.8,299,299.2,299.4,299.6,299.8,300,300.2,300.4,300.6,300.8,301,301.2,301.4,301.6,301.8,302,302.2,302.4,302.6,302.8,303],"tickSize":-7,"labels":false,"title":null}},"x2":{"field":"xb"},
"y":{"field":"ya","type":"quantitative","scale":{"domain":[-0.91,3.2],"nice":false,"zero":false},"axis":null},"y2":{"field":"yb"}}},
{"data":{"name":"k3"},"mark":{"type":"text","fontSize":26,"align":"center","baseline":"alphabetic","color":"black","font":"Liberation Serif"},
"encoding":{"x":{"field":"f","type":"quantitative","scale":{"domain":[296.78,303.17],"nice":false,"zero":false},"axis":{"orient":"top","values":[296.8,297,297.2,297.4,297.6,297.8,298,298.2,298.4,298.6,298.8,299,299.2,299.4,299.6,299.8,300,300.2,300.4,300.6,300.8,301,301.2,301.4,301.6,301.8,302,302.2,302.4,302.6,302.8,303],"tickSize":-7,"labels":false,"title":null}},
"y":{"field":"t","type":"quantitative","scale":{"domain":[-0.91,3.2],"nice":false,"zero":false},"axis":null},"text":{"field":"txt"}}},
{"data":{"name":"l3"},"mark":{"type":"text","fontSize":25,"angle":270,"align":"left","baseline":"alphabetic","color":"#ff0000","font":"Liberation Serif"},
"encoding":{"x":{"field":"f","type":"quantitative","scale":{"domain":[296.78,303.17],"nice":false,"zero":false},"axis":null},
"y":{"field":"t","type":"quantitative","scale":{"domain":[-0.91,3.2],"nice":false,"zero":false},"axis":null},"text":{"field":"txt"}}}
],
"resolve":{"axis":{"x":"independent","y":"independent"}}},
{"width":699,"height":285,
"layer":[
{"data":{"name":"s4"},"mark":{"type":"line","interpolate":"step","color":"black","strokeWidth":1.8,"clip":true},
"encoding":{"x":{"field":"f","type":"quantitative","scale":{"domain":[310.77,317.16],"nice":false,"zero":false},"axis":{"orient":"bottom","values":[311,312,313,314,315,316,317],"tickSize":-13,"labelPadding":22,"labelFont":"Liberation Serif","titleFont":"Liberation Serif","title":"LSR frequency (GHz)","titleY":54,"titleBaseline":"alphabetic"}},
"y":{"field":"t","type":"quantitative","scale":{"domain":[-0.91,3.2],"nice":false,"zero":false},"axis":{"orient":"left","values":[-0.5,0,0.5,1,1.5,2,2.5,3],"tickSize":-13,"labels":false,"title":null}}}},
{"data":{"name":"m4"},"mark":{"type":"line","interpolate":"monotone","color":"#ff0000","strokeWidth":2,"clip":true},
"encoding":{"x":{"field":"f","type":"quantitative","scale":{"domain":[310.77,317.16],"nice":false,"zero":false},"axis":{"orient":"top","values":[311,312,313,314,315,316,317],"tickSize":-13,"labels":false,"title":null}},
"y":{"field":"t","type":"quantitative","scale":{"domain":[-0.91,3.2],"nice":false,"zero":false},"axis":{"orient":"right","values":[-0.5,0,0.5,1,1.5,2,2.5,3],"tickSize":-13,"labels":false,"title":null}}}},
{"data":{"name":"b4"},"mark":{"type":"rule","color":"black","strokeWidth":1.5},
"encoding":{"x":{"field":"xa","type":"quantitative","scale":{"domain":[310.77,317.16],"nice":false,"zero":false},"axis":{"orient":"bottom","values":[310.8,311,311.2,311.4,311.6,311.8,312,312.2,312.4,312.6,312.8,313,313.2,313.4,313.6,313.8,314,314.2,314.4,314.6,314.8,315,315.2,315.4,315.6,315.8,316,316.2,316.4,316.6,316.8,317],"tickSize":-7,"labels":false,"title":null}},"x2":{"field":"xb"},
"y":{"field":"ya","type":"quantitative","scale":{"domain":[-0.91,3.2],"nice":false,"zero":false},"axis":null},"y2":{"field":"yb"}}},
{"data":{"name":"k4"},"mark":{"type":"text","fontSize":26,"align":"center","baseline":"alphabetic","color":"black","font":"Liberation Serif"},
"encoding":{"x":{"field":"f","type":"quantitative","scale":{"domain":[310.77,317.16],"nice":false,"zero":false},"axis":{"orient":"top","values":[310.8,311,311.2,311.4,311.6,311.8,312,312.2,312.4,312.6,312.8,313,313.2,313.4,313.6,313.8,314,314.2,314.4,314.6,314.8,315,315.2,315.4,315.6,315.8,316,316.2,316.4,316.6,316.8,317],"tickSize":-7,"labels":false,"title":null}},
"y":{"field":"t","type":"quantitative","scale":{"domain":[-0.91,3.2],"nice":false,"zero":false},"axis":null},"text":{"field":"txt"}}},
{"data":{"name":"ltebox"},"mark":{"type":"rect","fill":"white","stroke":"#ff0000","strokeWidth":2},
"encoding":{"x":{"field":"xa","type":"quantitative","scale":{"domain":[310.77,317.16],"nice":false,"zero":false},"axis":null},"x2":{"field":"xb"},
"y":{"field":"ya","type":"quantitative","scale":{"domain":[-0.91,3.2],"nice":false,"zero":false},"axis":null},"y2":{"field":"yb"}}},
{"data":{"name":"ltetext"},"mark":{"type":"text","fontSize":36,"align":"center","baseline":"alphabetic","color":"#ff0000","font":"Liberation Serif"},
"encoding":{"x":{"field":"f","type":"quantitative","scale":{"domain":[310.77,317.16],"nice":false,"zero":false},"axis":null},
"y":{"field":"t","type":"quantitative","scale":{"domain":[-0.91,3.2],"nice":false,"zero":false},"axis":null},"text":{"field":"txt"}}},
{"data":{"name":"ltearrow"},"mark":{"type":"rule","color":"#ff0000","strokeWidth":3},
"encoding":{"x":{"field":"xa","type":"quantitative","scale":{"domain":[310.77,317.16],"nice":false,"zero":false},"axis":null},"x2":{"field":"xb"},
"y":{"field":"ya","type":"quantitative","scale":{"domain":[-0.91,3.2],"nice":false,"zero":false},"axis":null},"y2":{"field":"yb"}}},
{"data":{"name":"ltehead"},"mark":{"type":"point","shape":"triangle-down","filled":true,"color":"#ff0000","opacity":1,"size":220,"angle":-24},
"encoding":{"x":{"field":"f","type":"quantitative","scale":{"domain":[310.77,317.16],"nice":false,"zero":false},"axis":null},
"y":{"field":"t","type":"quantitative","scale":{"domain":[-0.91,3.2],"nice":false,"zero":false},"axis":null}}}
],
"resolve":{"axis":{"x":"independent","y":"independent"}}}
],
"config":{
"font":"Liberation Serif",
"view":{"stroke":"black","strokeWidth":2},
"text":{"font":"Liberation Serif"},
"style":{"guide-label":{"font":"Liberation Serif"},"guide-title":{"font":"Liberation Serif"}},
"axis":{"domain":false,"grid":false,"tickColor":"black","tickWidth":1.5,"labelFont":"Liberation Serif","labelFontSize":25,"labelColor":"black","titleFont":"Liberation Serif","titleFontSize":26,"titleFontWeight":"normal","titleColor":"black","labelFlush":false,"labelOverlap":false}
}
}
